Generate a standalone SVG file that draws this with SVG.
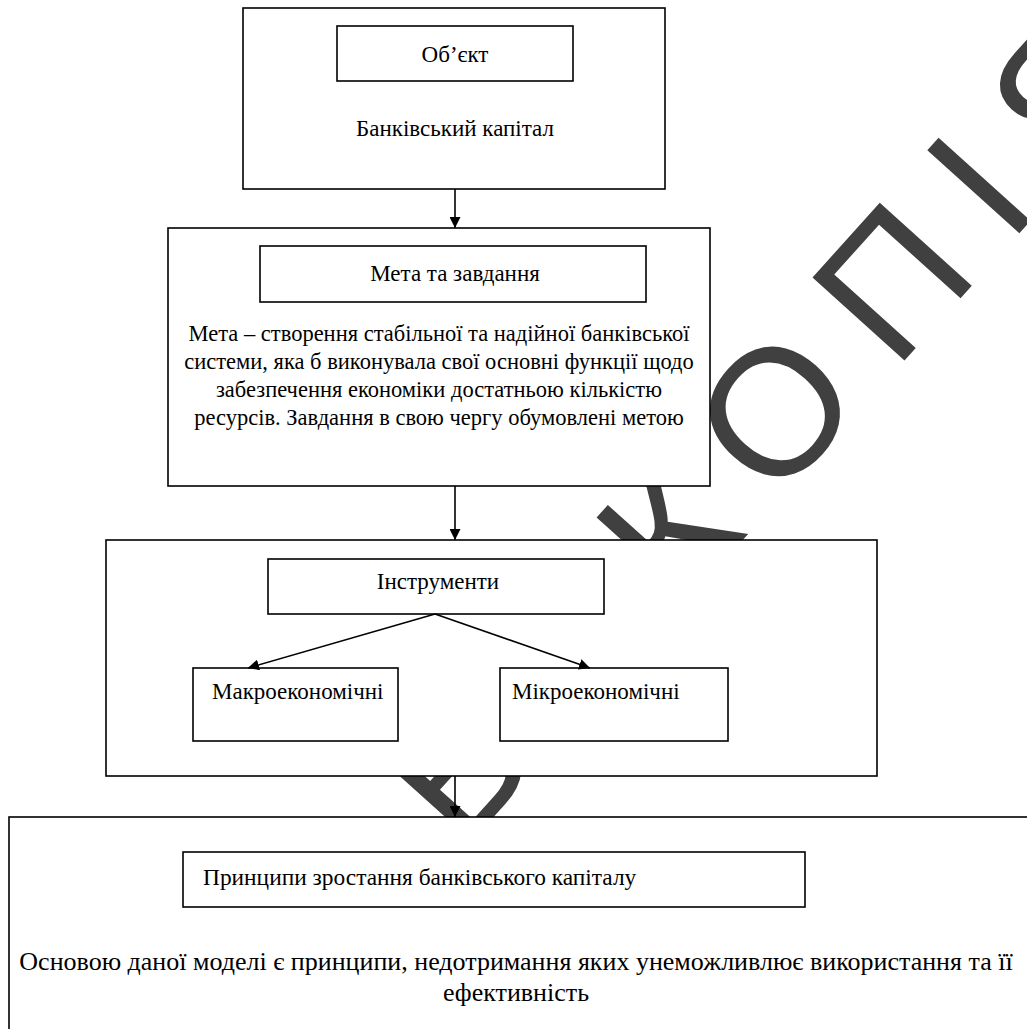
<svg xmlns="http://www.w3.org/2000/svg" width="1027" height="1029" viewBox="0 0 1027 1029">
<style>
.box{fill:#fff;stroke:#000;stroke-width:1.6}
.t{font-family:"Liberation Serif","Times New Roman",serif;font-size:23px;fill:#000}
.b{font-size:22.5px}
.c{text-anchor:middle}
.con{stroke:#000;stroke-width:1.6;fill:none}
.wm{font-family:"Liberation Sans",Arial,sans-serif;font-size:180px;letter-spacing:40px;fill:#404040}
</style>
<defs>
<marker id="ah" markerUnits="userSpaceOnUse" markerWidth="11" markerHeight="11" viewBox="0 0 11 11" refX="11" refY="5.5" orient="auto">
<path d="M0,0 L11,5.5 L0,11 z" fill="#000"/>
</marker>
</defs>
<rect width="1027" height="1029" fill="#fff"/>
<text class="wm" transform="translate(462,852) rotate(-48)">ВЯКОПІЯ</text>
<g id="object">
<rect class="box" x="243" y="8" width="422" height="181"/>
<rect class="box" x="337" y="26" width="236" height="55"/>
<text class="t c" x="455" y="62">Об’єкт</text>
<text class="t c" x="455" y="136">Банківський капітал</text>
</g>
<g id="goal">
<rect class="box" x="168" y="228" width="542" height="258"/>
<rect class="box" x="260" y="246" width="386" height="56"/>
<text class="t c" x="455" y="281">Мета та завдання</text>
<text class="t b c" x="439" y="341">Мета – створення стабільної та надійної банківської</text>
<text class="t b c" x="439" y="369">системи, яка б виконувала свої основні функції щодо</text>
<text class="t b c" x="439" y="397">забезпечення економіки достатньою кількістю</text>
<text class="t b c" x="439" y="425">ресурсів. Завдання в свою чергу обумовлені метою</text>
</g>
<g id="tools">
<rect class="box" x="106" y="540" width="771" height="236"/>
<rect class="box" x="268" y="559" width="336" height="55"/>
<text class="t c" x="438" y="589">Інструменти</text>
</g>
<g id="macro">
<rect class="box" x="193" y="668" width="205" height="73"/>
<text class="t" x="212" y="699">Макроекономічні</text>
</g>
<g id="micro">
<rect class="box" x="500" y="668" width="228" height="73"/>
<text class="t" x="512" y="699">Мікроекономічні</text>
</g>
<g id="principles">
<rect class="box" x="9" y="817" width="1030" height="230"/>
<rect class="box" x="183" y="852" width="622" height="55"/>
<text class="t" x="203" y="885" style="font-size:23.4px">Принципи зростання банківського капіталу</text>
<text class="t c" x="516" y="970" style="font-size:26px">Основою даної моделі є принципи, недотримання яких унеможливлює використання та її</text>
<text class="t c" x="516" y="1001" style="font-size:26px">ефективність</text>
</g>
<g id="connectors">
<line class="con" x1="455" y1="189" x2="455" y2="228" marker-end="url(#ah)"/>
<line class="con" x1="455" y1="486" x2="455" y2="540" marker-end="url(#ah)"/>
<line class="con" x1="435" y1="614" x2="248" y2="668" marker-end="url(#ah)"/>
<line class="con" x1="435" y1="614" x2="590" y2="668" marker-end="url(#ah)"/>
<line class="con" x1="455" y1="776" x2="455" y2="817" marker-end="url(#ah)"/>
</g>
</svg>
